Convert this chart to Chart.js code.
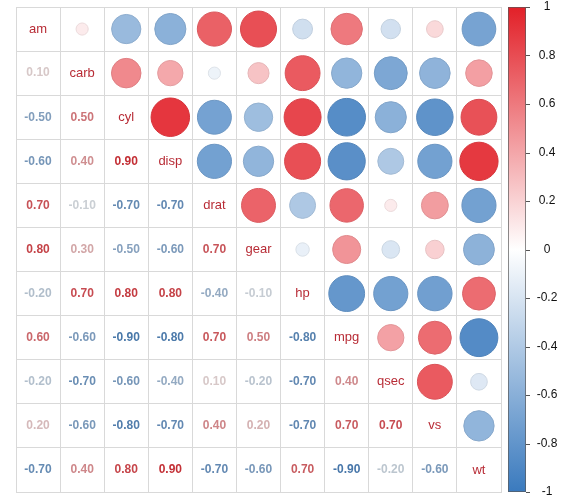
<!DOCTYPE html>
<html>
<head>
<meta charset="utf-8">
<script src="https://cdn.jsdelivr.net/npm/chart.js@4.4.1/dist/chart.umd.min.js"></script>
<style>
  body { margin: 0; background: #fff; }
  #wrap { width: 564px; height: 500px; }
</style>
</head>
<body>
<div id="wrap"><canvas id="corrChart"></canvas></div>
<script>
// variables, in plot order (top to bottom, left to right)
const vars = ['am', 'carb', 'cyl', 'disp', 'drat', 'gear', 'hp', 'mpg', 'qsec', 'vs', 'wt'];

// upper triangle of the correlation matrix, row by row (after the diagonal)
const rowAm   = [0.09, -0.52, -0.59, 0.71, 0.79, -0.24, 0.60, -0.23, 0.17, -0.69];
const rowCarb = [0.53, 0.39, -0.09, 0.27, 0.74, -0.56, -0.66, -0.57, 0.43];
const rowCyl  = [0.90, -0.70, -0.49, 0.83, -0.86, -0.59, -0.81, 0.78];
const rowDisp = [-0.71, -0.56, 0.79, -0.84, -0.41, -0.71, 0.89];
const rowDrat = [0.70, -0.41, 0.68, 0.09, 0.44, -0.71];
const rowGear = [-0.11, 0.48, -0.19, 0.21, -0.58];
const rowHp   = [-0.78, -0.71, -0.72, 0.66];
const rowMpg  = [0.42, 0.66, -0.87];
const rowQsec = [0.74, -0.17];
const rowVs   = [-0.56];

// colour bar tick labels
const cbTicks = [1, 0.8, 0.6, 0.4, 0.2, 0, -0.2, -0.4, -0.6, -0.8, -1];

// build the full symmetric matrix
const upperRows = [rowAm, rowCarb, rowCyl, rowDisp, rowDrat, rowGear, rowHp, rowMpg, rowQsec, rowVs, []];
const n = vars.length;
const corr = [];
for (let i = 0; i < n; i++) corr.push(new Array(n).fill(1));
upperRows.forEach((row, i) => {
    row.forEach((v, k) => {
        const j = i + 1 + k;
        corr[i][j] = v;
        corr[j][i] = v;
    });
});

// colours
const RED = [226, 32, 40];
const BLUE = [58, 122, 190];
function colorFor(v, dark) {
    const end = v >= 0 ? RED : BLUE;
    const t = Math.min(1, Math.abs(v));
    const k = dark || 1;
    const c = end.map(e => Math.round((255 + (e - 255) * t) * k));
    return 'rgb(' + c.join(',') + ')';
}

// bubbles for the upper triangle
const points = [];
for (let i = 0; i < n; i++) {
    for (let j = i + 1; j < n; j++) {
        points.push({ x: j + 0.5, y: i + 0.5, v: corr[i][j] });
    }
}

const valOf = c => (c.raw && c.raw.v !== undefined ? c.raw.v : 0);

const font = '"Liberation Sans", Arial, sans-serif';

const textPlugin = {
    id: 'corrText',
    afterDatasetsDraw(chart) {
        const ctx = chart.ctx;
        const xs = chart.scales.x, ys = chart.scales.y;
        ctx.save();
        ctx.textAlign = 'center';
        ctx.textBaseline = 'middle';
        for (let i = 0; i < n; i++) {
            for (let j = 0; j <= i; j++) {
                const px = xs.getPixelForValue(j + 0.5);
                const py = ys.getPixelForValue(i + 0.5);
                if (i === j) {
                    ctx.font = '13px ' + font;
                    ctx.fillStyle = '#b82c36';
                    ctx.fillText(vars[i], px, py);
                } else {
                    const v = corr[i][j];
                    ctx.font = 'bold 12px ' + font;
                    ctx.fillStyle = colorFor(v, 0.85);
                    ctx.fillText((Math.round(v * 10) / 10).toFixed(2), px, py);
                }
            }
        }
        ctx.restore();
    },
    afterDraw(chart) {
        // colour legend on the right
        const ctx = chart.ctx;
        const cb = chart.scales.cb;
        const area = chart.chartArea;
        const x0 = area.right + 7, w = 18;
        const top = cb.getPixelForValue(1), bottom = cb.getPixelForValue(-1);
        const grad = ctx.createLinearGradient(0, top, 0, bottom);
        grad.addColorStop(0, colorFor(1));
        grad.addColorStop(0.5, colorFor(0));
        grad.addColorStop(1, colorFor(-1));
        ctx.save();
        ctx.fillStyle = grad;
        ctx.fillRect(x0, top, w, bottom - top);
        ctx.strokeStyle = 'rgba(90,90,90,0.7)';
        ctx.lineWidth = 1;
        ctx.strokeRect(x0 + 0.5, top + 0.5, w - 1, bottom - top - 1);
        ctx.font = '12px ' + font;
        ctx.fillStyle = '#111';
        ctx.textAlign = 'center';
        ctx.textBaseline = 'middle';
        cbTicks.forEach(t => {
            const py = cb.getPixelForValue(t);
            ctx.beginPath();
            ctx.moveTo(x0 + w, Math.round(py) + 0.5);
            ctx.lineTo(x0 + w + 4, Math.round(py) + 0.5);
            ctx.strokeStyle = '#555';
            ctx.stroke();
            ctx.fillText(String(t), x0 + w + 21, py);
        });
        ctx.restore();
    }
};

const gridOpts = {
    color: '#d9d9d9',
    drawTicks: false
};

new Chart(document.getElementById('corrChart').getContext('2d'), {
    type: 'bubble',
    data: {
        datasets: [{
            data: points,
            backgroundColor: c => colorFor(valOf(c)),
            borderColor: c => colorFor(valOf(c), 0.93),
            borderWidth: 1,
            radius: c => {
                const cell = (c.chart.chartArea ? c.chart.chartArea.width : 485) / n;
                return Math.sqrt(Math.abs(valOf(c))) * cell * 0.46;
            },
            hoverRadius: 0
        }]
    },
    options: {
        responsive: true,
        maintainAspectRatio: false,
        animation: false,
        layout: { autoPadding: false, padding: { left: 16, top: 7, right: 63, bottom: 8 } },
        plugins: {
            legend: { display: false },
            tooltip: { enabled: false }
        },
        scales: {
            x: {
                type: 'linear', min: 0, max: n,
                ticks: { display: false, stepSize: 1 },
                grid: gridOpts,
                border: { color: '#d9d9d9' },
                afterFit: s => { s.height = 0; }
            },
            y: {
                type: 'linear', min: 0, max: n, reverse: true,
                ticks: { display: false, stepSize: 1 },
                grid: gridOpts,
                border: { color: '#d9d9d9' },
                afterFit: s => { s.width = 0; }
            },
            cb: {
                type: 'linear', position: 'right', min: -1, max: 1,
                display: false
            }
        }
    },
    plugins: [textPlugin]
});
</script>
</body>
</html>
